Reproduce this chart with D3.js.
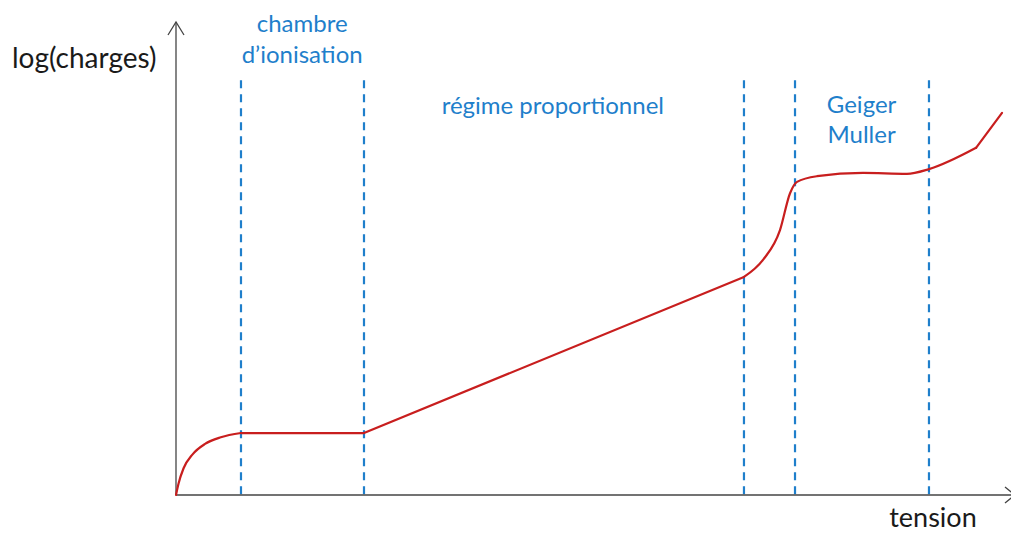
<!DOCTYPE html>
<html><head><meta charset="utf-8">
<script src="https://cdn.jsdelivr.net/npm/d3@7/dist/d3.min.js"></script>
<style>
html,body{margin:0;padding:0;background:#fff;}
svg{display:block;}
text{font-family:Lato,"Open Sans",sans-serif;}
</style></head>
<body>
<svg id="chart" width="1011" height="534"></svg>
<script>
// --- data (arbitrary units: tension 0..100, log(charges) 0..100) ---
const tensionRise   = [0, 0.3, 0.9, 2.0, 3.5, 5.4, 7.83];
const chargesRise   = [0, 2.4, 5.6, 8.6, 10.8, 12.2, 13.1];
const tensionLinear = [7.83, 22.65, 68.43];
const chargesLinear = [13.1, 13.1, 46.1];
const tensionGeiger = [68.43, 70.72, 72.77, 73.98, 74.82, 77.23, 82.77, 88.07, 90.72, 96.39];
const chargesGeiger = [46.1, 49.7, 56.0, 63.8, 66.2, 67.4, 68.1, 67.9, 68.9, 73.4];
const tensionEnd    = [96.39, 99.52];
const chargesEnd    = [73.4, 80.8];
const boundaries    = [7.83, 22.65, 68.43, 74.58, 90.72];
const boundaryTop   = 87.7;
const regionLabels  = [
  {lines:["chambre","d\u2019ionisation"], x:15.2, y:[97.9, 91.3]},
  {lines:["régime proportionnel"], x:45.4, y:[80.5]},
  {lines:["Geiger","Muller"], x:82.6, y:[80.7, 74.4]}
];
const yLabel = "log(charges)";
const xLabel = "tension";

const svg = d3.select("#chart");
const x = d3.scaleLinear().domain([0,100]).range([176,1006]);
const y = d3.scaleLinear().domain([0,100]).range([495,22]);

const blue = "#1f7fcb";
const red = "#c81e1e";
const axisCol = "#444";

// boundaries
svg.append("g").selectAll("line").data(boundaries).join("line")
  .attr("x1", d=>x(d)).attr("x2", d=>x(d))
  .attr("y1", y(boundaryTop)).attr("y2", y(0))
  .attr("stroke", blue).attr("stroke-width", 2.2)
  .attr("stroke-dasharray", "8,6");

// axes
const ax = svg.append("g").attr("stroke", axisCol).attr("stroke-width", 1.3).attr("fill","none");
ax.append("line").attr("x1", x(0)).attr("x2", x(0)).attr("y1", y(0)).attr("y2", y(100));
ax.append("path").attr("d", `M${x(0)-8},${y(100)+13}L${x(0)},${y(100)}L${x(0)+8},${y(100)+13}`);
ax.append("line").attr("x1", x(0)).attr("x2", 1014).attr("y1", y(0)).attr("y2", y(0));
ax.append("path").attr("d", `M1005,${y(0)-8}L1015,${y(0)}L1005,${y(0)+8}`);

// curve
function pts(xs, ys){ return xs.map((v,i)=>[v, ys[i]]); }
const lineMono = d3.line().x(d=>x(d[0])).y(d=>y(d[1])).curve(d3.curveMonotoneX);
const lineLin = d3.line().x(d=>x(d[0])).y(d=>y(d[1]));
const cg = svg.append("g").attr("fill","none").attr("stroke", red).attr("stroke-width", 2.2)
  .attr("stroke-linejoin","round").attr("stroke-linecap","round");
cg.append("path").attr("d", lineMono(pts(tensionRise, chargesRise)));
cg.append("path").attr("d", lineLin(pts(tensionLinear, chargesLinear)));
cg.append("path").attr("d", lineMono(pts(tensionGeiger, chargesGeiger)));
cg.append("path").attr("d", lineLin(pts(tensionEnd, chargesEnd)));

// region labels
regionLabels.forEach(l=>{
  l.lines.forEach((t,i)=>{
    svg.append("text").attr("x", x(l.x)).attr("y", y(l.y[i]))
      .attr("text-anchor","middle").attr("fill", blue)
      .style("font-size","24px").text(t);
  });
});

// axis labels
svg.append("text").attr("x", 12).attr("y", 68).attr("fill","#1a1a1a")
  .style("font-size","28px").text(yLabel);
svg.append("text").attr("x", 933).attr("y", 527).attr("text-anchor","middle").attr("fill","#1a1a1a")
  .style("font-size","27px").text(xLabel);
</script>
</body></html>
